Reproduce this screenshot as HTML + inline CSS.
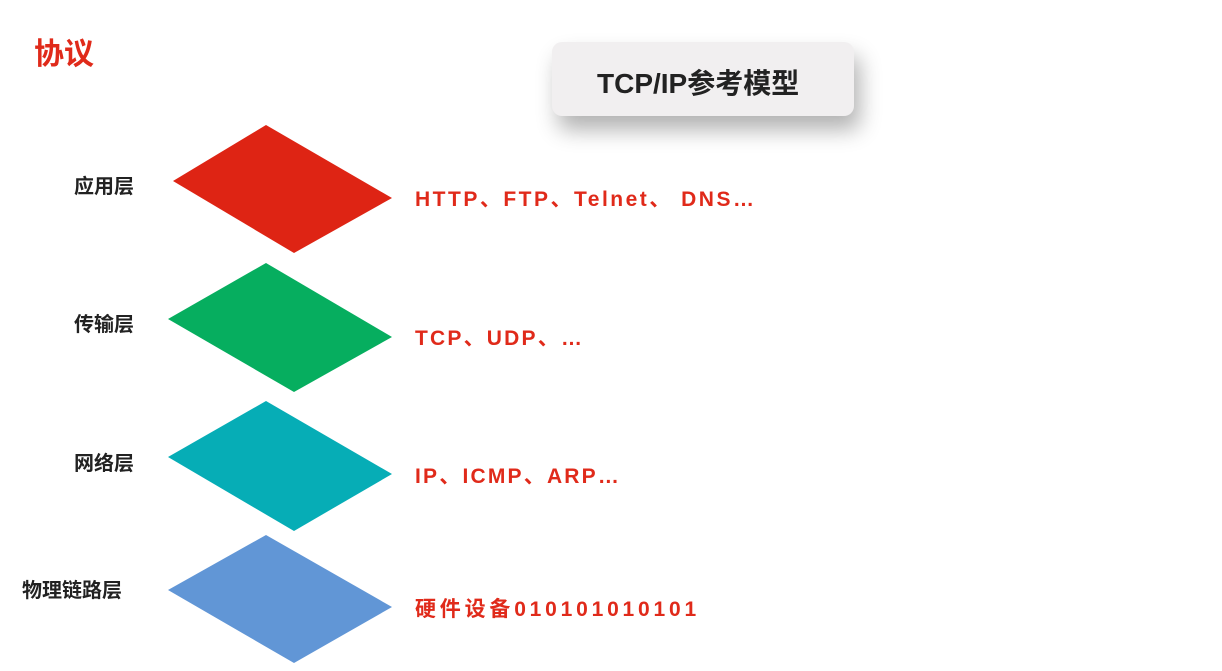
<!DOCTYPE html>
<html><head><meta charset="utf-8"><style>
body{margin:0;width:1222px;height:671px;background:#fff;position:relative;overflow:hidden;font-family:"Liberation Sans","Noto Sans CJK SC",sans-serif}
.t{position:absolute;white-space:nowrap}
.lab{font-size:20px;color:#222;font-weight:bold}
.red{color:#e02a1a;font-size:21px;font-weight:bold;letter-spacing:1px}
</style></head><body>
<div class="t" style="left:34px;top:29px;font-size:30px;color:#e02a1a;font-weight:bold">协议</div>
<div style="position:absolute;left:552px;top:42px;width:302px;height:74px;background:#f1eff0;border-radius:10px;box-shadow:6px 14px 22px rgba(0,0,0,0.3)"></div>
<div class="t" style="left:597px;top:62px;font-size:28px;font-weight:bold;color:#222">TCP/IP参考模型</div>
<svg width="1222" height="671" style="position:absolute;left:0;top:0">
<polygon points="266,125 392,198 294,253 173,181" fill="#de2414"/>
<polygon points="266,263 392,337 294,392 168,319" fill="#06ae5f"/>
<polygon points="266,401 392,474 294,531 168,457" fill="#06adb6"/>
<polygon points="266,535 392,607 294,663 168,590" fill="#6196d6"/>
</svg>
<div class="t lab" style="left:74px;top:170px">应用层</div>
<div class="t lab" style="left:74px;top:308px">传输层</div>
<div class="t lab" style="left:74px;top:447px">网络层</div>
<div class="t lab" style="left:22px;top:574px">物理链路层</div>
<div class="t red" style="left:415px;top:183px;letter-spacing:2.5px">HTTP、FTP、Telnet、 DNS…</div>
<div class="t red" style="left:415px;top:322px;letter-spacing:2.2px">TCP、UDP、…</div>
<div class="t red" style="left:415px;top:460px;letter-spacing:2.2px">IP、ICMP、ARP…</div>
<div class="t red" style="left:415px;top:593px;letter-spacing:3.8px">硬件设备010101010101</div>
</body></html>
